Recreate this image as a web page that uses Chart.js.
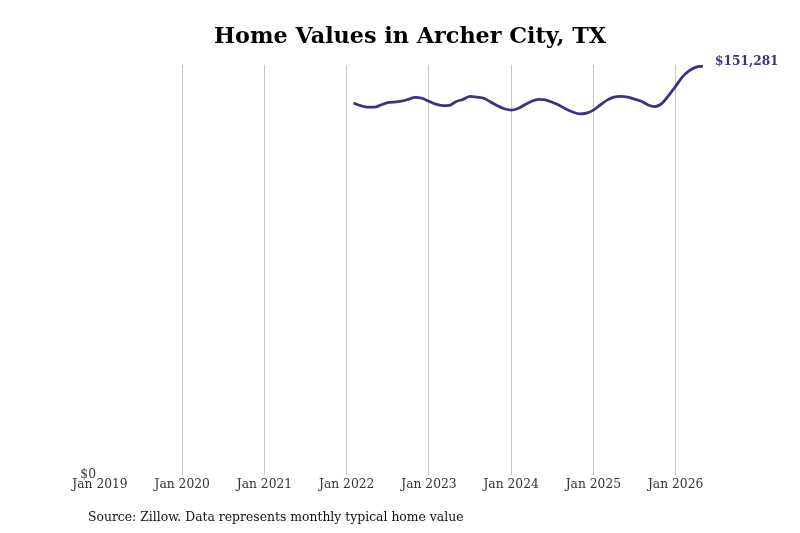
<!DOCTYPE html>
<html>
<head>
<meta charset="utf-8">
<script src="https://cdn.jsdelivr.net/npm/chart.js@4"></script>
<style>
  body { margin: 0; background: #fff; }
  #wrap { position: relative; width: 800px; height: 533px; }
  #title {
    position: absolute; left: 0; top: 22px; width: 820px; margin: 0;
    text-align: center; font: bold 22.3px "DejaVu Serif", serif; color: #000;
  }
  #source {
    position: absolute; left: 88px; top: 509px; margin: 0;
    font: 12.4px "DejaVu Serif", serif; color: #111;
  }
  canvas { position: absolute; left: 0; top: 0; }
</style>
</head>
<body>
<div id="wrap">
  <canvas id="homeChart" width="800" height="533"></canvas>
  <h1 id="title">Home Values in Archer City, TX</h1>
  <p id="source">Source: Zillow. Data represents monthly typical home value</p>
</div>
<script>
// monthly typical home value, Feb 2022 - May 2026
const months = [
  '2022-02', '2022-03', '2022-04', '2022-05', '2022-06', '2022-07', '2022-08', '2022-09', '2022-10', '2022-11', '2022-12',
  '2023-01', '2023-02', '2023-03', '2023-04', '2023-05', '2023-06', '2023-07', '2023-08', '2023-09', '2023-10', '2023-11', '2023-12',
  '2024-01', '2024-02', '2024-03', '2024-04', '2024-05', '2024-06', '2024-07', '2024-08', '2024-09', '2024-10', '2024-11', '2024-12',
  '2025-01', '2025-02', '2025-03', '2025-04', '2025-05', '2025-06', '2025-07', '2025-08', '2025-09', '2025-10', '2025-11', '2025-12',
  '2026-01', '2026-02', '2026-03', '2026-04', '2026-05'
];
const homeValues = [
  137600, 136700, 136100, 136100, 136900, 137800, 138000, 138300, 139000, 139700, 139400,
  138300, 137200, 136700, 136800, 138200, 139000, 140100, 139800, 139400, 138000, 136600, 135500,
  135000, 135600, 137000, 138300, 139000, 138800, 137900, 136800, 135400, 134300, 133600, 133900,
  135000, 136900, 138700, 139800, 140100, 139800, 139100, 138300, 136900, 136300, 137500, 140500,
  143800, 147300, 149600, 150900, 151281
];
const yearTicks = [2019, 2020, 2021, 2022, 2023, 2024, 2025, 2026];
const yTickLabels = ['$0'];

const startYear = yearTicks[0];
function monthIndex(m) {
  const parts = m.split('-');
  return (parseInt(parts[0]) - startYear) * 12 + parseInt(parts[1]) - 1;
}

const points = months.map((m, i) => ({ x: monthIndex(m), y: homeValues[i] }));
const lineColor = '#3a3285';
const serif = '"DejaVu Serif", serif';

const lastLabel = {
  id: 'lastLabel',
  afterDatasetsDraw(chart) {
    const meta = chart.getDatasetMeta(0);
    const pt = meta.data[meta.data.length - 1];
    const ctx = chart.ctx;
    const v = homeValues[homeValues.length - 1];
    ctx.save();
    ctx.font = 'bold 12.2px ' + serif;
    ctx.fillStyle = lineColor;
    ctx.textAlign = 'left';
    ctx.textBaseline = 'middle';
    ctx.fillText('$' + v.toLocaleString('en-US'), pt.x + 12, pt.y - 4);
    ctx.restore();
  }
};

new Chart(document.getElementById('homeChart'), {
  type: 'line',
  data: {
    datasets: [{
      data: points,
      borderColor: lineColor,
      borderWidth: 2.8,
      pointRadius: 0,
      tension: 0.4,
      cubicInterpolationMode: 'monotone',
      fill: false
    }]
  },
  options: {
    responsive: false,
    animation: false,
    layout: { padding: { top: 65, right: 97, bottom: 28, left: 76 } },
    plugins: {
      legend: { display: false },
      tooltip: { enabled: false }
    },
    scales: {
      x: {
        type: 'linear',
        min: 0,
        max: monthIndex(months[months.length - 1]),
        border: { display: false },
        grid: {
          drawTicks: false,
          color: (c) => c.tick && c.tick.value === 0 ? 'rgba(0,0,0,0)' : '#c8c8c8',
          lineWidth: 1
        },
        afterBuildTicks: (scale) => {
          scale.ticks = yearTicks.map(y => ({ value: (y - startYear) * 12 }));
        },
        afterFit: (scale) => { scale.height = 30; },
        ticks: {
          padding: 2,
          color: '#333',
          font: { family: serif, size: 12.3 },
          maxRotation: 0,
          callback: (v) => 'Jan ' + (startYear + v / 12)
        }
      },
      y: {
        min: 0,
        max: 151700,
        border: { display: false },
        grid: { display: false, drawTicks: false },
        afterBuildTicks: (scale) => { scale.ticks = [{ value: 0 }]; },
        afterFit: (scale) => { scale.width = 24; },
        ticks: {
          padding: 4,
          color: '#333',
          font: { family: serif, size: 12.3 },
          callback: (v, i) => yTickLabels[i]
        }
      }
    }
  },
  plugins: [lastLabel]
});
</script>
</body>
</html>
